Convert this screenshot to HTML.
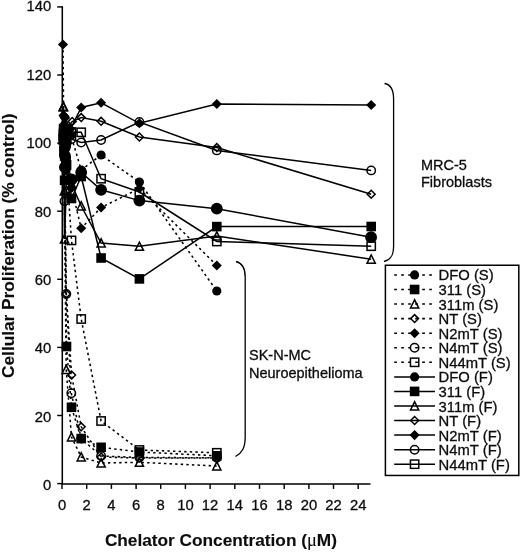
<!DOCTYPE html>
<html><head><meta charset="utf-8"><title>Chart</title>
<style>
html,body{margin:0;padding:0;background:#fff;}
svg{display:block;filter:blur(0.35px)}
text{font-family:"Liberation Sans",sans-serif;fill:#0c0c0c;stroke:#0c0c0c;stroke-width:0.3px}
.tk{font-size:14.8px}
.tt{font-size:17.4px;font-weight:bold;stroke-width:0.12px}
.mu{font-family:"Liberation Serif",serif;font-weight:normal;font-size:18.5px}
.an{font-size:14.5px}
.lg{font-size:14.8px}
</style></head>
<body>
<svg width="520" height="552" viewBox="0 0 520 552">
<rect width="520" height="552" fill="#fff"/>
<g id="plot">
<path d="M63.8 140L66 135L66 170.5L71 135.5L81.2 170L101.1 155L139.4 182L216.8 291" fill="none" stroke="#000" stroke-width="1.55" stroke-dasharray="2.4 3.2"/>
<circle cx="63.8" cy="140" r="4.6" fill="#000"/>
<circle cx="66" cy="135" r="4.6" fill="#000"/>
<circle cx="66" cy="170.5" r="4.6" fill="#000"/>
<circle cx="71" cy="135.5" r="4.6" fill="#000"/>
<circle cx="81.2" cy="170" r="4.6" fill="#000"/>
<circle cx="101.1" cy="155" r="4.6" fill="#000"/>
<circle cx="139.4" cy="182" r="4.6" fill="#000"/>
<circle cx="216.8" cy="291" r="4.6" fill="#000"/>
<path d="M63.8 133.6L64.6 180.3L66.5 346.5L71.5 407.3L81.2 438.6L101.1 447.3L139.4 452L216.8 455.8" fill="none" stroke="#000" stroke-width="1.55" stroke-dasharray="2.4 3.2"/>
<rect x="59.0" y="128.79999999999998" width="9.6" height="9.6" fill="#000"/>
<rect x="59.8" y="175.5" width="9.6" height="9.6" fill="#000"/>
<rect x="61.7" y="341.7" width="9.6" height="9.6" fill="#000"/>
<rect x="66.7" y="402.5" width="9.6" height="9.6" fill="#000"/>
<rect x="76.4" y="433.8" width="9.6" height="9.6" fill="#000"/>
<rect x="96.3" y="442.5" width="9.6" height="9.6" fill="#000"/>
<rect x="134.6" y="447.2" width="9.6" height="9.6" fill="#000"/>
<rect x="212.0" y="451.0" width="9.6" height="9.6" fill="#000"/>
<path d="M63.3 106.3L64.3 191L66.2 369.5L71.5 437L81.2 457L101.1 463L139.4 462.3L216.8 466" fill="none" stroke="#000" stroke-width="1.55" stroke-dasharray="2.4 3.2"/>
<path d="M59.199999999999996 110.3L63.3 102.1L67.39999999999999 110.3Z" fill="none" stroke="#000" stroke-width="1.5"/>
<path d="M60.199999999999996 195.0L64.3 186.8L68.39999999999999 195.0Z" fill="none" stroke="#000" stroke-width="1.5"/>
<path d="M62.1 373.5L66.2 365.3L70.3 373.5Z" fill="none" stroke="#000" stroke-width="1.5"/>
<path d="M67.4 441.0L71.5 432.8L75.6 441.0Z" fill="none" stroke="#000" stroke-width="1.5"/>
<path d="M77.10000000000001 461.0L81.2 452.8L85.3 461.0Z" fill="none" stroke="#000" stroke-width="1.5"/>
<path d="M97.0 467.0L101.1 458.8L105.19999999999999 467.0Z" fill="none" stroke="#000" stroke-width="1.5"/>
<path d="M135.3 466.3L139.4 458.1L143.5 466.3Z" fill="none" stroke="#000" stroke-width="1.5"/>
<path d="M212.70000000000002 470.0L216.8 461.8L220.9 470.0Z" fill="none" stroke="#000" stroke-width="1.5"/>
<path d="M63.3 125L64.5 160L66.3 294L71.6 375L81.2 426.8L101.1 457L139.4 458L216.8 458" fill="none" stroke="#000" stroke-width="1.55" stroke-dasharray="2.4 3.2"/>
<path d="M59.349999999999994 125L63.3 121.05L67.25 125L63.3 128.95Z" fill="none" stroke="#000" stroke-width="1.5"/>
<path d="M60.55 160L64.5 156.05L68.45 160L64.5 163.95Z" fill="none" stroke="#000" stroke-width="1.5"/>
<path d="M62.349999999999994 294L66.3 290.05L70.25 294L66.3 297.95Z" fill="none" stroke="#000" stroke-width="1.5"/>
<path d="M67.64999999999999 375L71.6 371.05L75.55 375L71.6 378.95Z" fill="none" stroke="#000" stroke-width="1.5"/>
<path d="M77.25 426.8L81.2 422.85L85.15 426.8L81.2 430.75Z" fill="none" stroke="#000" stroke-width="1.5"/>
<path d="M97.14999999999999 457L101.1 453.05L105.05 457L101.1 460.95Z" fill="none" stroke="#000" stroke-width="1.5"/>
<path d="M135.45000000000002 458L139.4 454.05L143.35 458L139.4 461.95Z" fill="none" stroke="#000" stroke-width="1.5"/>
<path d="M212.85000000000002 458L216.8 454.05L220.75 458L216.8 461.95Z" fill="none" stroke="#000" stroke-width="1.5"/>
<path d="M63 44.5L63.6 115.5L64.6 117.5L71.5 188L81.2 228.3L101.1 207.5L139.4 188.5L216.8 265.5" fill="none" stroke="#000" stroke-width="1.55" stroke-dasharray="2.4 3.2"/>
<path d="M57.95 44.5L63 39.45L68.05 44.5L63 49.55Z" fill="#000"/>
<path d="M58.550000000000004 115.5L63.6 110.45L68.65 115.5L63.6 120.55Z" fill="#000"/>
<path d="M59.55 117.5L64.6 112.45L69.64999999999999 117.5L64.6 122.55Z" fill="#000"/>
<path d="M66.45 188L71.5 182.95L76.55 188L71.5 193.05Z" fill="#000"/>
<path d="M76.15 228.3L81.2 223.25L86.25 228.3L81.2 233.35000000000002Z" fill="#000"/>
<path d="M96.05 207.5L101.1 202.45L106.14999999999999 207.5L101.1 212.55Z" fill="#000"/>
<path d="M134.35 188.5L139.4 183.45L144.45000000000002 188.5L139.4 193.55Z" fill="#000"/>
<path d="M211.75 265.5L216.8 260.45L221.85000000000002 265.5L216.8 270.55Z" fill="#000"/>
<path d="M63.3 130L64.5 201.3L66.3 294L71.3 393.2L81.2 438.6L101.1 456L139.4 457.5L216.8 457.8" fill="none" stroke="#000" stroke-width="1.55" stroke-dasharray="2.4 3.2"/>
<circle cx="63.3" cy="130" r="4.2" fill="none" stroke="#000" stroke-width="1.5"/>
<circle cx="64.5" cy="201.3" r="4.2" fill="none" stroke="#000" stroke-width="1.5"/>
<circle cx="66.3" cy="294" r="4.2" fill="none" stroke="#000" stroke-width="1.5"/>
<circle cx="71.3" cy="393.2" r="4.2" fill="none" stroke="#000" stroke-width="1.5"/>
<circle cx="81.2" cy="438.6" r="4.2" fill="none" stroke="#000" stroke-width="1.5"/>
<circle cx="101.1" cy="456" r="4.2" fill="none" stroke="#000" stroke-width="1.5"/>
<circle cx="139.4" cy="457.5" r="4.2" fill="none" stroke="#000" stroke-width="1.5"/>
<circle cx="216.8" cy="457.8" r="4.2" fill="none" stroke="#000" stroke-width="1.5"/>
<path d="M63.3 136L64.5 140L66.5 165L71.5 240.4L81.2 319L101.1 421L139.4 450L216.8 452.8" fill="none" stroke="#000" stroke-width="1.55" stroke-dasharray="2.4 3.2"/>
<rect x="59.15" y="131.85" width="8.3" height="8.3" fill="none" stroke="#000" stroke-width="1.5"/>
<rect x="60.35" y="135.85" width="8.3" height="8.3" fill="none" stroke="#000" stroke-width="1.5"/>
<rect x="62.35" y="160.85" width="8.3" height="8.3" fill="none" stroke="#000" stroke-width="1.5"/>
<rect x="67.35" y="236.25" width="8.3" height="8.3" fill="none" stroke="#000" stroke-width="1.5"/>
<rect x="77.05" y="314.85" width="8.3" height="8.3" fill="none" stroke="#000" stroke-width="1.5"/>
<rect x="96.94999999999999" y="416.85" width="8.3" height="8.3" fill="none" stroke="#000" stroke-width="1.5"/>
<rect x="135.25" y="445.85" width="8.3" height="8.3" fill="none" stroke="#000" stroke-width="1.5"/>
<rect x="212.65" y="448.65000000000003" width="8.3" height="8.3" fill="none" stroke="#000" stroke-width="1.5"/>
<path d="M65 147L65 156L64.9 167.2L71.5 179.5L81.2 172.5L101.1 189.8L139.4 200.6L216.8 208.7L371.1 237.2" fill="none" stroke="#000" stroke-width="1.5"/>
<circle cx="65" cy="147" r="5.9" fill="#000"/>
<circle cx="65" cy="156" r="5.9" fill="#000"/>
<circle cx="64.9" cy="167.2" r="5.9" fill="#000"/>
<circle cx="71.5" cy="179.5" r="5.9" fill="#000"/>
<circle cx="81.2" cy="172.5" r="5.9" fill="#000"/>
<circle cx="101.1" cy="189.8" r="5.9" fill="#000"/>
<circle cx="139.4" cy="200.6" r="5.9" fill="#000"/>
<circle cx="216.8" cy="208.7" r="5.9" fill="#000"/>
<circle cx="371.1" cy="237.2" r="5.9" fill="#000"/>
<path d="M66 142.5L63.9 151.5L66.1 160.8L71.5 198.5L81.2 176.5L101.1 258L139.4 278.9L216.8 226.6L371.2 226.5" fill="none" stroke="#000" stroke-width="1.5"/>
<rect x="61.2" y="137.7" width="9.6" height="9.6" fill="#000"/>
<rect x="59.1" y="146.7" width="9.6" height="9.6" fill="#000"/>
<rect x="61.3" y="156.0" width="9.6" height="9.6" fill="#000"/>
<rect x="66.7" y="193.7" width="9.6" height="9.6" fill="#000"/>
<rect x="76.4" y="171.7" width="9.6" height="9.6" fill="#000"/>
<rect x="96.3" y="253.2" width="9.6" height="9.6" fill="#000"/>
<rect x="134.6" y="274.09999999999997" width="9.6" height="9.6" fill="#000"/>
<rect x="212.0" y="221.79999999999998" width="9.6" height="9.6" fill="#000"/>
<rect x="366.4" y="221.7" width="9.6" height="9.6" fill="#000"/>
<path d="M63.4 106.9L64.5 239L66.3 190L71.5 184L81.2 206L101.1 243L139.4 246.3L216.8 236L371.2 259.2" fill="none" stroke="#000" stroke-width="1.5"/>
<path d="M59.3 110.9L63.4 102.7L67.5 110.9Z" fill="none" stroke="#000" stroke-width="1.5"/>
<path d="M60.4 243.0L64.5 234.8L68.6 243.0Z" fill="none" stroke="#000" stroke-width="1.5"/>
<path d="M62.199999999999996 194.0L66.3 185.8L70.39999999999999 194.0Z" fill="none" stroke="#000" stroke-width="1.5"/>
<path d="M67.4 188.0L71.5 179.8L75.6 188.0Z" fill="none" stroke="#000" stroke-width="1.5"/>
<path d="M77.10000000000001 210.0L81.2 201.8L85.3 210.0Z" fill="none" stroke="#000" stroke-width="1.5"/>
<path d="M97.0 247.0L101.1 238.8L105.19999999999999 247.0Z" fill="none" stroke="#000" stroke-width="1.5"/>
<path d="M135.3 250.3L139.4 242.10000000000002L143.5 250.3Z" fill="none" stroke="#000" stroke-width="1.5"/>
<path d="M212.70000000000002 240.0L216.8 231.8L220.9 240.0Z" fill="none" stroke="#000" stroke-width="1.5"/>
<path d="M367.09999999999997 263.2L371.2 255.0L375.3 263.2Z" fill="none" stroke="#000" stroke-width="1.5"/>
<path d="M63.3 127L64.7 125.5L67 128L72.2 121.5L81.2 117.6L101.1 121.3L139.4 137L216.8 147.5L371.2 194.2" fill="none" stroke="#000" stroke-width="1.5"/>
<path d="M59.349999999999994 127L63.3 123.05L67.25 127L63.3 130.95Z" fill="none" stroke="#000" stroke-width="1.5"/>
<path d="M60.75 125.5L64.7 121.55L68.65 125.5L64.7 129.45Z" fill="none" stroke="#000" stroke-width="1.5"/>
<path d="M63.05 128L67 124.05L70.95 128L67 131.95Z" fill="none" stroke="#000" stroke-width="1.5"/>
<path d="M68.25 121.5L72.2 117.55L76.15 121.5L72.2 125.45Z" fill="none" stroke="#000" stroke-width="1.5"/>
<path d="M77.25 117.6L81.2 113.64999999999999L85.15 117.6L81.2 121.55Z" fill="none" stroke="#000" stroke-width="1.5"/>
<path d="M97.14999999999999 121.3L101.1 117.35L105.05 121.3L101.1 125.25Z" fill="none" stroke="#000" stroke-width="1.5"/>
<path d="M135.45000000000002 137L139.4 133.05L143.35 137L139.4 140.95Z" fill="none" stroke="#000" stroke-width="1.5"/>
<path d="M212.85000000000002 147.5L216.8 143.55L220.75 147.5L216.8 151.45Z" fill="none" stroke="#000" stroke-width="1.5"/>
<path d="M367.25 194.2L371.2 190.25L375.15 194.2L371.2 198.14999999999998Z" fill="none" stroke="#000" stroke-width="1.5"/>
<path d="M63.6 115.5L64.6 116.5L65 118L70.5 129L81.2 107.5L101.1 102.8L139.4 123.3L216.8 104L371.2 105" fill="none" stroke="#000" stroke-width="1.5"/>
<path d="M58.550000000000004 115.5L63.6 110.45L68.65 115.5L63.6 120.55Z" fill="#000"/>
<path d="M59.55 116.5L64.6 111.45L69.64999999999999 116.5L64.6 121.55Z" fill="#000"/>
<path d="M59.95 118L65 112.95L70.05 118L65 123.05Z" fill="#000"/>
<path d="M65.45 129L70.5 123.95L75.55 129L70.5 134.05Z" fill="#000"/>
<path d="M76.15 107.5L81.2 102.45L86.25 107.5L81.2 112.55Z" fill="#000"/>
<path d="M96.05 102.8L101.1 97.75L106.14999999999999 102.8L101.1 107.85Z" fill="#000"/>
<path d="M134.35 123.3L139.4 118.25L144.45000000000002 123.3L139.4 128.35Z" fill="#000"/>
<path d="M211.75 104L216.8 98.95L221.85000000000002 104L216.8 109.05Z" fill="#000"/>
<path d="M366.15 105L371.2 99.95L376.25 105L371.2 110.05Z" fill="#000"/>
<path d="M63.3 135L64.7 139L66.7 143L71.5 139L81.2 142.5L101.1 140L139.4 122L216.8 150.4L371.2 170.4" fill="none" stroke="#000" stroke-width="1.5"/>
<circle cx="63.3" cy="135" r="4.2" fill="none" stroke="#000" stroke-width="1.5"/>
<circle cx="64.7" cy="139" r="4.2" fill="none" stroke="#000" stroke-width="1.5"/>
<circle cx="66.7" cy="143" r="4.2" fill="none" stroke="#000" stroke-width="1.5"/>
<circle cx="71.5" cy="139" r="4.2" fill="none" stroke="#000" stroke-width="1.5"/>
<circle cx="81.2" cy="142.5" r="4.2" fill="none" stroke="#000" stroke-width="1.5"/>
<circle cx="101.1" cy="140" r="4.2" fill="none" stroke="#000" stroke-width="1.5"/>
<circle cx="139.4" cy="122" r="4.2" fill="none" stroke="#000" stroke-width="1.5"/>
<circle cx="216.8" cy="150.4" r="4.2" fill="none" stroke="#000" stroke-width="1.5"/>
<circle cx="371.2" cy="170.4" r="4.2" fill="none" stroke="#000" stroke-width="1.5"/>
<path d="M63.3 140L64.7 146L66.7 138L71.5 132L81.2 132.3L101.1 178.7L139.4 192L216.8 241.5L371.2 246.2" fill="none" stroke="#000" stroke-width="1.5"/>
<rect x="59.15" y="135.85" width="8.3" height="8.3" fill="none" stroke="#000" stroke-width="1.5"/>
<rect x="60.550000000000004" y="141.85" width="8.3" height="8.3" fill="none" stroke="#000" stroke-width="1.5"/>
<rect x="62.550000000000004" y="133.85" width="8.3" height="8.3" fill="none" stroke="#000" stroke-width="1.5"/>
<rect x="67.35" y="127.85" width="8.3" height="8.3" fill="none" stroke="#000" stroke-width="1.5"/>
<rect x="77.05" y="128.15" width="8.3" height="8.3" fill="none" stroke="#000" stroke-width="1.5"/>
<rect x="96.94999999999999" y="174.54999999999998" width="8.3" height="8.3" fill="none" stroke="#000" stroke-width="1.5"/>
<rect x="135.25" y="187.85" width="8.3" height="8.3" fill="none" stroke="#000" stroke-width="1.5"/>
<rect x="212.65" y="237.35" width="8.3" height="8.3" fill="none" stroke="#000" stroke-width="1.5"/>
<rect x="367.05" y="242.04999999999998" width="8.3" height="8.3" fill="none" stroke="#000" stroke-width="1.5"/>
</g>
<path d="M62.3 6.3V484.0H370.5" fill="none" stroke="#000" stroke-width="1.55"/>
<path d="M57.2 483.6H62.3" stroke="#000" stroke-width="1.45"/>
<text x="51.2" y="490.0" text-anchor="end" class="tk">0</text>
<path d="M57.2 415.5H62.3" stroke="#000" stroke-width="1.45"/>
<text x="51.2" y="421.6" text-anchor="end" class="tk">20</text>
<path d="M57.2 347.4H62.3" stroke="#000" stroke-width="1.45"/>
<text x="51.2" y="353.3" text-anchor="end" class="tk">40</text>
<path d="M57.2 279.3H62.3" stroke="#000" stroke-width="1.45"/>
<text x="51.2" y="284.9" text-anchor="end" class="tk">60</text>
<path d="M57.2 211.2H62.3" stroke="#000" stroke-width="1.45"/>
<text x="51.2" y="216.5" text-anchor="end" class="tk">80</text>
<path d="M57.2 143.1H62.3" stroke="#000" stroke-width="1.45"/>
<text x="51.2" y="148.1" text-anchor="end" class="tk">100</text>
<path d="M57.2 75.0H62.3" stroke="#000" stroke-width="1.45"/>
<text x="51.2" y="79.8" text-anchor="end" class="tk">120</text>
<path d="M57.2 6.9H62.3" stroke="#000" stroke-width="1.45"/>
<text x="51.2" y="11.4" text-anchor="end" class="tk">140</text>
<path d="M62.0 484.0V488.90000000000003" stroke="#000" stroke-width="1.45"/>
<text x="62.0" y="510.3" text-anchor="middle" class="tk">0</text>
<path d="M86.7 484.0V488.90000000000003" stroke="#000" stroke-width="1.45"/>
<text x="86.7" y="510.3" text-anchor="middle" class="tk">2</text>
<path d="M111.4 484.0V488.90000000000003" stroke="#000" stroke-width="1.45"/>
<text x="111.4" y="510.3" text-anchor="middle" class="tk">4</text>
<path d="M136.1 484.0V488.90000000000003" stroke="#000" stroke-width="1.45"/>
<text x="136.1" y="510.3" text-anchor="middle" class="tk">6</text>
<path d="M160.7 484.0V488.90000000000003" stroke="#000" stroke-width="1.45"/>
<text x="160.7" y="510.3" text-anchor="middle" class="tk">8</text>
<path d="M185.4 484.0V488.90000000000003" stroke="#000" stroke-width="1.45"/>
<text x="185.4" y="510.3" text-anchor="middle" class="tk">10</text>
<path d="M210.1 484.0V488.90000000000003" stroke="#000" stroke-width="1.45"/>
<text x="210.1" y="510.3" text-anchor="middle" class="tk">12</text>
<path d="M234.8 484.0V488.90000000000003" stroke="#000" stroke-width="1.45"/>
<text x="234.8" y="510.3" text-anchor="middle" class="tk">14</text>
<path d="M259.5 484.0V488.90000000000003" stroke="#000" stroke-width="1.45"/>
<text x="259.5" y="510.3" text-anchor="middle" class="tk">16</text>
<path d="M284.2 484.0V488.90000000000003" stroke="#000" stroke-width="1.45"/>
<text x="284.2" y="510.3" text-anchor="middle" class="tk">18</text>
<path d="M308.9 484.0V488.90000000000003" stroke="#000" stroke-width="1.45"/>
<text x="308.9" y="510.3" text-anchor="middle" class="tk">20</text>
<path d="M333.5 484.0V488.90000000000003" stroke="#000" stroke-width="1.45"/>
<text x="333.5" y="510.3" text-anchor="middle" class="tk">22</text>
<path d="M358.2 484.0V488.90000000000003" stroke="#000" stroke-width="1.45"/>
<text x="358.2" y="510.3" text-anchor="middle" class="tk">24</text>
<text transform="translate(13.6 245.7) rotate(-90)" text-anchor="middle" textLength="264.5" lengthAdjust="spacingAndGlyphs" class="tt">Cellular Proliferation (% control)</text>
<text x="220.9" y="545.7" text-anchor="middle" textLength="232" lengthAdjust="spacingAndGlyphs" class="tt">Chelator Concentration (<tspan class="mu">&#956;</tspan>M)</text>
<text x="421" y="170" class="an">MRC-5</text>
<text x="421" y="187.3" class="an">Fibroblasts</text>
<text x="249" y="360" class="an">SK-N-MC</text>
<text x="249" y="377.8" class="an">Neuroepithelioma</text>
<path d="M384.5 83.5 C390.5 84.5 393.6 89 393.6 99 V246 C393.6 256 390.5 260 384 261.5" fill="none" stroke="#000" stroke-width="1.3"/>
<path d="M236 261.5 C242 263 245.2 267 245.2 277 V437 C245.2 448 242 453 235.5 456.5" fill="none" stroke="#000" stroke-width="1.3"/>
<rect x="385.4" y="265.25" width="133.4" height="210.2" fill="#fff" stroke="#000" stroke-width="1.5"/>
<path d="M394.2 274.9L432.2 274.9" fill="none" stroke="#000" stroke-width="1.55" stroke-dasharray="2.7 4.3"/>
<circle cx="414.6" cy="274.9" r="4.6" fill="#000"/>
<text x="438.6" y="280.4" class="lg">DFO (S)</text>
<path d="M394.2 289.5L432.2 289.5" fill="none" stroke="#000" stroke-width="1.55" stroke-dasharray="2.7 4.3"/>
<rect x="409.8" y="284.7" width="9.6" height="9.6" fill="#000"/>
<text x="438.6" y="295.0" class="lg">311 (S)</text>
<path d="M394.2 304.0L432.2 304.0" fill="none" stroke="#000" stroke-width="1.55" stroke-dasharray="2.7 4.3"/>
<path d="M410.5 308.0L414.6 299.8L418.70000000000005 308.0Z" fill="none" stroke="#000" stroke-width="1.5"/>
<text x="438.6" y="309.5" class="lg">311m (S)</text>
<path d="M394.2 318.6L432.2 318.6" fill="none" stroke="#000" stroke-width="1.55" stroke-dasharray="2.7 4.3"/>
<path d="M410.65000000000003 318.6L414.6 314.65000000000003L418.55 318.6L414.6 322.55Z" fill="none" stroke="#000" stroke-width="1.5"/>
<text x="438.6" y="324.1" class="lg">NT (S)</text>
<path d="M394.2 333.2L432.2 333.2" fill="none" stroke="#000" stroke-width="1.55" stroke-dasharray="2.7 4.3"/>
<path d="M409.55 333.2L414.6 328.15L419.65000000000003 333.2L414.6 338.25Z" fill="#000"/>
<text x="438.6" y="338.7" class="lg">N2mT (S)</text>
<path d="M394.2 347.7L432.2 347.7" fill="none" stroke="#000" stroke-width="1.55" stroke-dasharray="2.7 4.3"/>
<circle cx="414.6" cy="347.7" r="4.2" fill="none" stroke="#000" stroke-width="1.5"/>
<text x="438.6" y="353.2" class="lg">N4mT (S)</text>
<path d="M394.2 362.3L432.2 362.3" fill="none" stroke="#000" stroke-width="1.55" stroke-dasharray="2.7 4.3"/>
<rect x="410.45000000000005" y="358.15000000000003" width="8.3" height="8.3" fill="none" stroke="#000" stroke-width="1.5"/>
<text x="438.6" y="367.8" class="lg">N44mT (S)</text>
<path d="M394.2 376.9L435 376.9" fill="none" stroke="#000" stroke-width="1.5"/>
<circle cx="414.6" cy="376.9" r="4.6" fill="#000"/>
<text x="438.6" y="382.4" class="lg">DFO (F)</text>
<path d="M394.2 391.4L435 391.4" fill="none" stroke="#000" stroke-width="1.5"/>
<rect x="409.8" y="386.59999999999997" width="9.6" height="9.6" fill="#000"/>
<text x="438.6" y="396.9" class="lg">311 (F)</text>
<path d="M394.2 406.0L435 406.0" fill="none" stroke="#000" stroke-width="1.5"/>
<path d="M410.5 410.0L414.6 401.8L418.70000000000005 410.0Z" fill="none" stroke="#000" stroke-width="1.5"/>
<text x="438.6" y="411.5" class="lg">311m (F)</text>
<path d="M394.2 420.5L435 420.5" fill="none" stroke="#000" stroke-width="1.5"/>
<path d="M410.65000000000003 420.5L414.6 416.55L418.55 420.5L414.6 424.45Z" fill="none" stroke="#000" stroke-width="1.5"/>
<text x="438.6" y="426.0" class="lg">NT (F)</text>
<path d="M394.2 435.1L435 435.1" fill="none" stroke="#000" stroke-width="1.5"/>
<path d="M409.55 435.1L414.6 430.05L419.65000000000003 435.1L414.6 440.15000000000003Z" fill="#000"/>
<text x="438.6" y="440.6" class="lg">N2mT (F)</text>
<path d="M394.2 449.7L435 449.7" fill="none" stroke="#000" stroke-width="1.5"/>
<circle cx="414.6" cy="449.7" r="4.2" fill="none" stroke="#000" stroke-width="1.5"/>
<text x="438.6" y="455.2" class="lg">N4mT (F)</text>
<path d="M394.2 464.2L435 464.2" fill="none" stroke="#000" stroke-width="1.5"/>
<rect x="410.45000000000005" y="460.05" width="8.3" height="8.3" fill="none" stroke="#000" stroke-width="1.5"/>
<text x="438.6" y="469.7" class="lg">N44mT (F)</text>
</svg>
</body></html>
